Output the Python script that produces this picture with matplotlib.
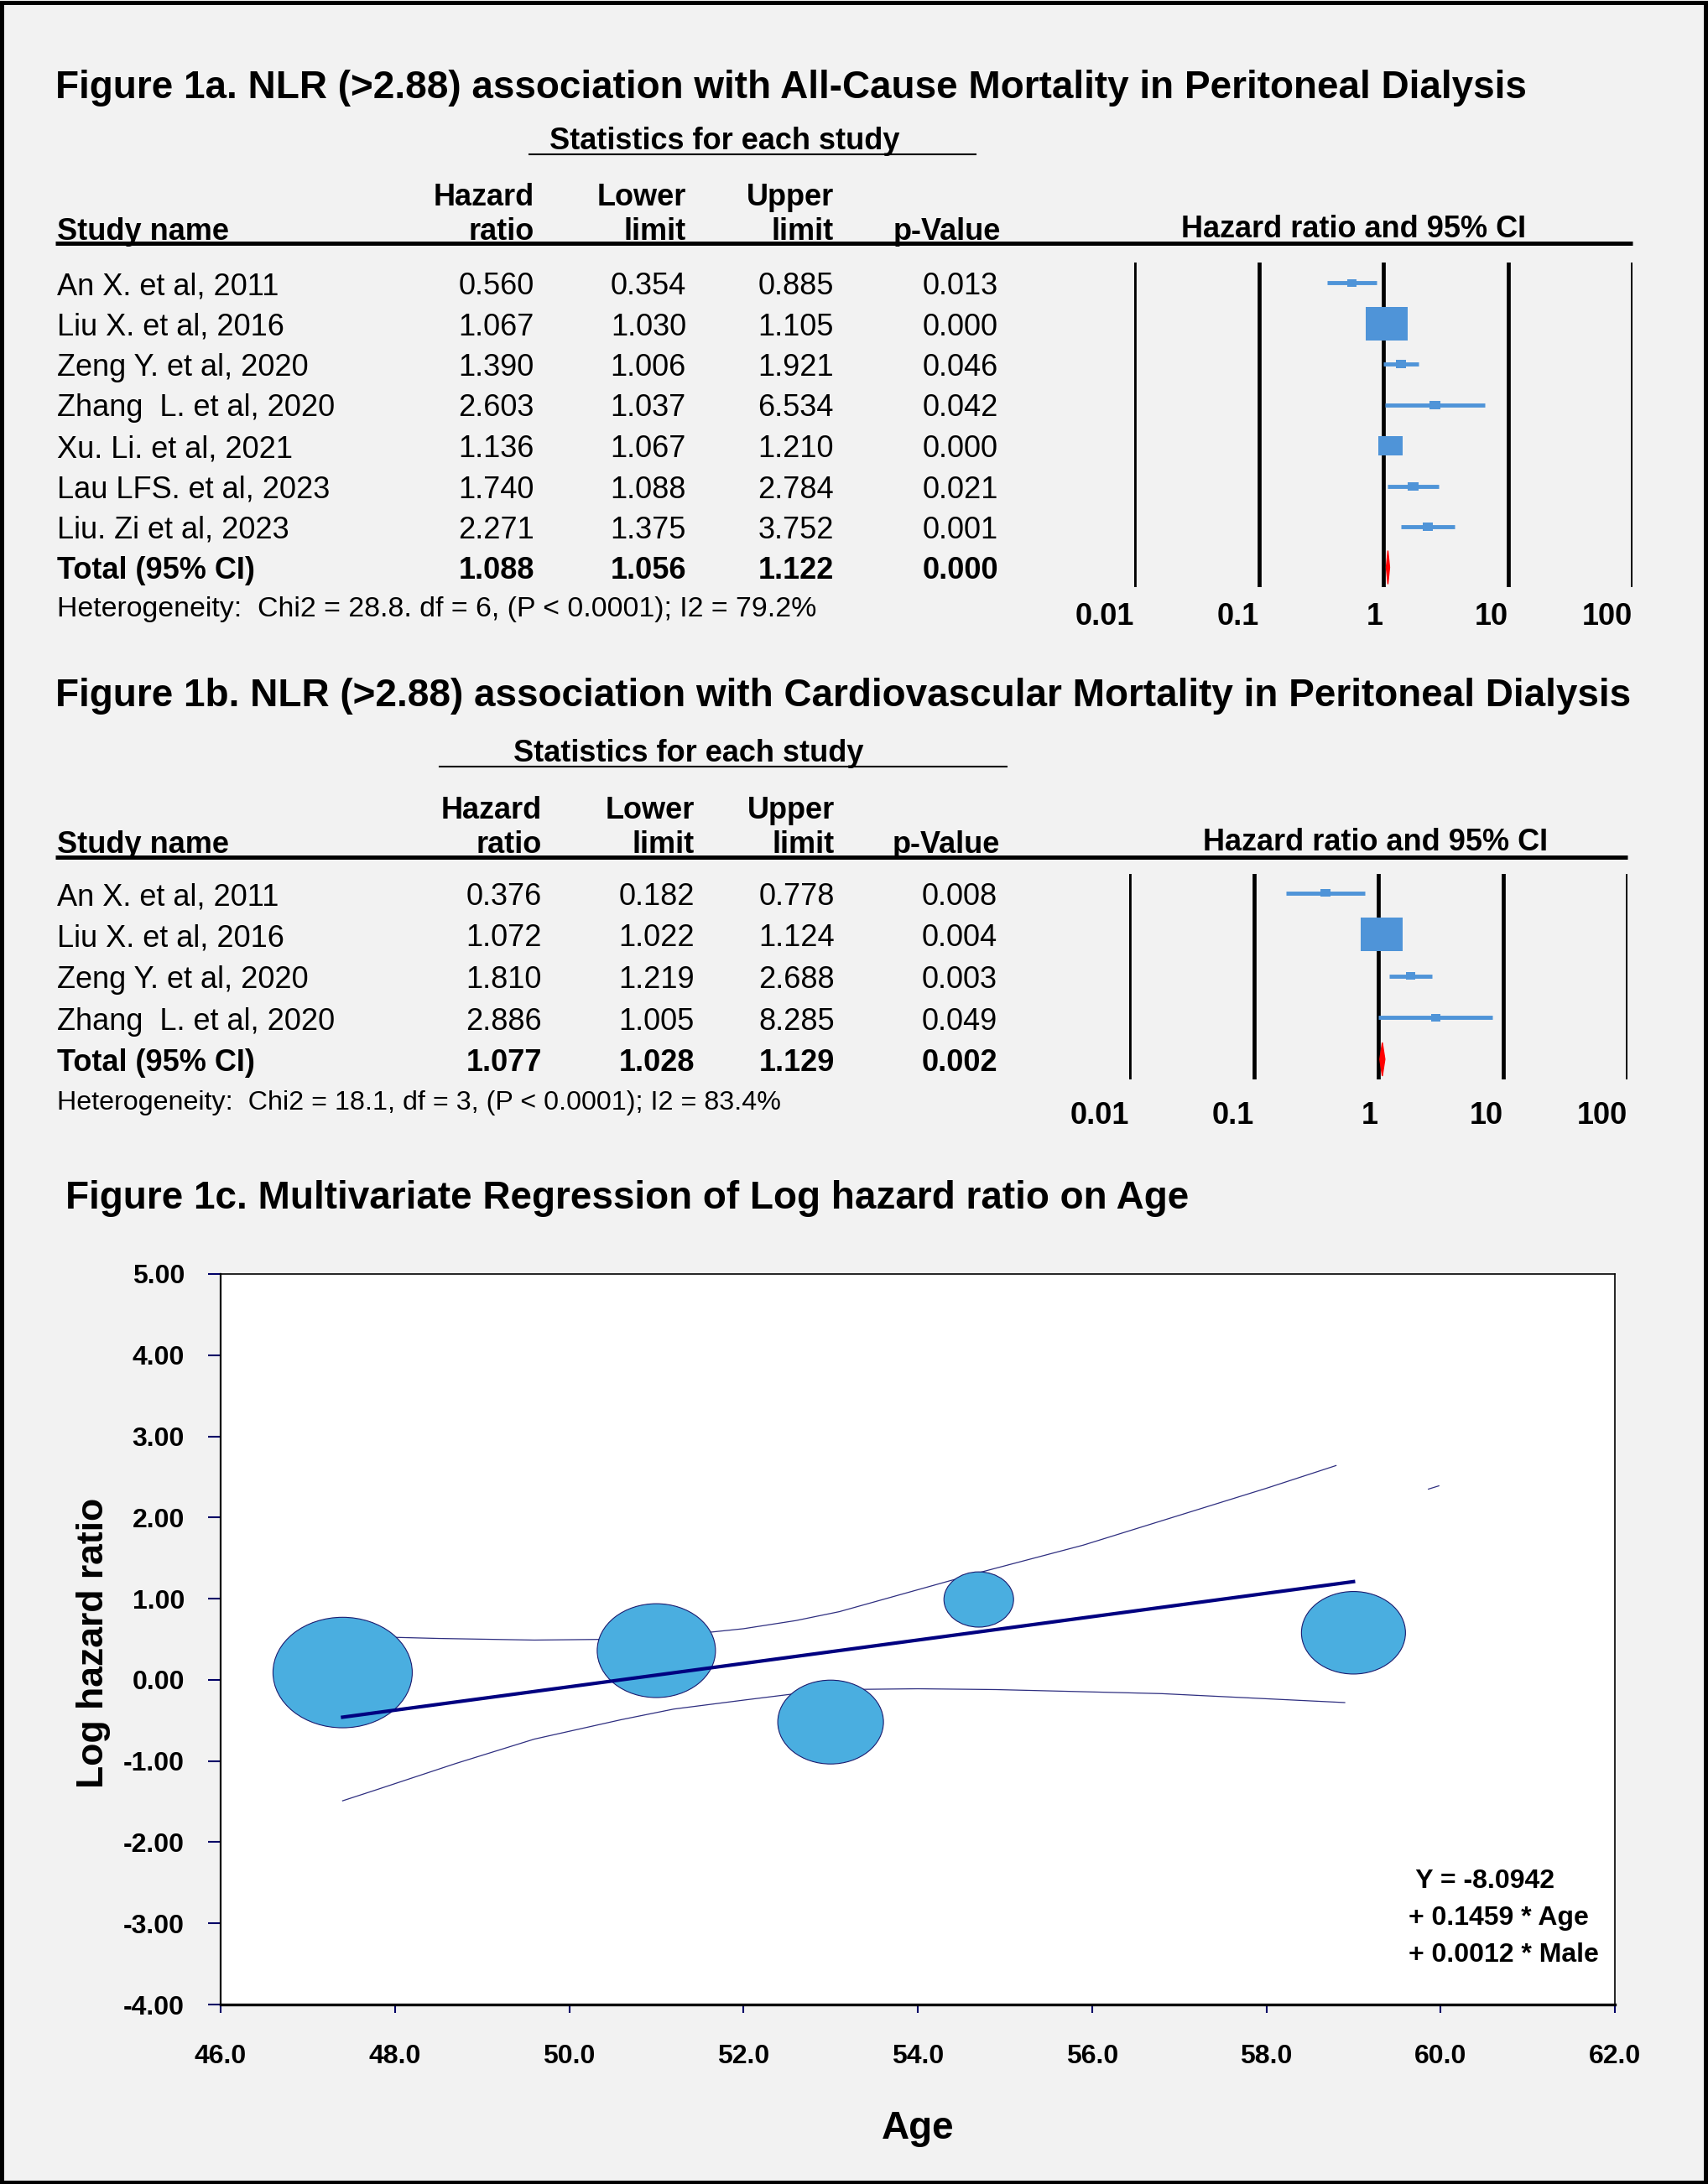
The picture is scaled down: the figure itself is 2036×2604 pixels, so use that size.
import matplotlib
matplotlib.use('Agg')
import matplotlib.pyplot as plt
import numpy as np
from matplotlib.path import Path
from matplotlib.transforms import Affine2D
from matplotlib.patches import Rectangle, Polygon
from matplotlib.ticker import NullLocator

plt.rcParams['font.family'] = ['Liberation Sans', 'DejaVu Sans']

# ---- Figure 1a data: all-cause mortality ----
studies_a = ['An X. et al, 2011', 'Liu X. et al, 2016', 'Zeng Y. et al, 2020',
             'Zhang  L. et al, 2020', 'Xu. Li. et al, 2021', 'Lau LFS. et al, 2023',
             'Liu. Zi et al, 2023']
hr_a = [0.560, 1.067, 1.390, 2.603, 1.136, 1.740, 2.271]
lo_a = [0.354, 1.030, 1.006, 1.037, 1.067, 1.088, 1.375]
hi_a = [0.885, 1.105, 1.921, 6.534, 1.210, 2.784, 3.752]
p_a = ['0.013', '0.000', '0.046', '0.042', '0.000', '0.021', '0.001']
weight_a = [9, 40, 10, 10, 23, 10, 10]
total_a = [1.088, 1.056, 1.122]
total_p_a = '0.000'
het_a = 'Heterogeneity:  Chi2 = 28.8. df = 6, (P < 0.0001); I2 = 79.2%'

# ---- Figure 1b data: cardiovascular mortality ----
studies_b = ['An X. et al, 2011', 'Liu X. et al, 2016', 'Zeng Y. et al, 2020',
             'Zhang  L. et al, 2020']
hr_b = [0.376, 1.072, 1.810, 2.886]
lo_b = [0.182, 1.022, 1.219, 1.005]
hi_b = [0.778, 1.124, 2.688, 8.285]
p_b = ['0.008', '0.004', '0.003', '0.049']
weight_b = [9, 40, 9, 9]
total_b = [1.077, 1.028, 1.129]
total_p_b = '0.002'
het_b = 'Heterogeneity:  Chi2 = 18.1, df = 3, (P < 0.0001); I2 = 83.4%'

# ---- Figure 1c data: meta-regression on age ----
age = [47.4, 51.0, 53.0, 54.7, 59.0]
log_hr = [0.09, 0.36, -0.52, 0.99, 0.58]
bubble_w = [166, 141, 126, 83, 124]
reg_age = [47.4, 59.0]
reg_fit = [-0.46, 1.21]
ci_up_age = [47.4, 48.5, 49.6, 50.5, 51.2, 52.0, 52.6, 53.1, 53.9, 54.7, 55.9, 57.1, 58.0, 58.8]
ci_up = [0.54, 0.51, 0.49, 0.50, 0.54, 0.63, 0.73, 0.84, 1.08, 1.32, 1.66, 2.06, 2.36, 2.64]
ci_up_tail_age = [59.86, 59.98]
ci_up_tail = [2.35, 2.39]
ci_lo_age = [47.4, 47.8, 48.7, 49.6, 50.6, 51.2, 52.0, 52.6, 53.1, 54.0, 54.9, 56.8, 58.9]
ci_lo = [-1.49, -1.35, -1.03, -0.73, -0.49, -0.36, -0.25, -0.17, -0.12, -0.11, -0.12, -0.17, -0.28]
y_ticks = [5, 4, 3, 2, 1, 0, -1, -2, -3, -4]
x_ticks = [46, 48, 50, 52, 54, 56, 58, 60, 62]
equation = [' Y = -8.0942', '+ 0.1459 * Age', '+ 0.0012 * Male']

W, H = 2036, 2604
BG = '#F2F2F2'
BLUE = '#4F94D8'

fig = plt.figure(figsize=(W / 100, H / 100), dpi=100, facecolor=BG)

# overlay in pixel coordinates for the table text
ov = fig.add_axes([0, 0, 1, 1])
ov.set_xlim(0, W)
ov.set_ylim(H, 0)
ov.axis('off')
ov.set_facecolor('none')
ov.set_zorder(10)
ov.add_patch(Rectangle((2.5, 2.5), W - 5, H - 5, fill=False, lw=3.6, edgecolor='black'))


def px_axes(x0, x1, y0, y1):
    return fig.add_axes([x0 / W, 1 - y1 / H, (x1 - x0) / W, (y1 - y0) / H])


def forest_panel(title, title_y, stat_y, stat_cx, stat_line, head_y, rule_y, rule_x1,
                 cols, ci_cx, studies, hr, lo, hi, pv, weight, total, total_p, het, het_fs,
                 row0, dy, ax_x, line_top, line_bot, lab_pad):
    ov.text(66, title_y, title, fontsize=33, fontweight='bold', va='baseline')
    ov.text(stat_cx, stat_y, 'Statistics for each study', fontsize=26,
            fontweight='bold', ha='center', va='baseline')
    ov.plot(stat_line, [stat_y + 6, stat_y + 6], color='black', lw=1.5)
    c_hr, c_lo, c_hi, c_p = cols
    for x, top, bot in [(c_hr, 'Hazard', 'ratio'), (c_lo, 'Lower', 'limit'),
                        (c_hi, 'Upper', 'limit')]:
        ov.text(x, head_y - 41, top, fontsize=26, fontweight='bold', ha='right', va='baseline')
        ov.text(x, head_y, bot, fontsize=26, fontweight='bold', ha='right', va='baseline')
    ov.text(c_p, head_y, 'p-Value', fontsize=26, fontweight='bold', ha='right', va='baseline')
    ov.text(68, head_y, 'Study name', fontsize=26, fontweight='bold', va='baseline')
    ov.text(ci_cx, head_y - 3, 'Hazard ratio and 95% CI', fontsize=26,
            fontweight='bold', ha='center', va='baseline')
    ov.plot([66, rule_x1], [rule_y, rule_y], color='black', lw=3.6, solid_capstyle='butt')

    for i, name in enumerate(studies):
        y = row0 + dy * i + 14
        ov.text(68, y, name, fontsize=26, va='baseline')
        for x, v in [(c_hr, hr[i]), (c_lo, lo[i]), (c_hi, hi[i])]:
            ov.text(x, y, f'{v:.3f}', fontsize=26, ha='right', va='baseline')
        ov.text(c_p - 3, y, pv[i], fontsize=26, ha='right', va='baseline')
    n = len(studies)
    y = row0 + dy * n + 14
    ov.text(68, y, 'Total (95% CI)', fontsize=26, fontweight='bold', va='baseline')
    for x, v in [(c_hr, total[0]), (c_lo, total[1]), (c_hi, total[2])]:
        ov.text(x, y, f'{v:.3f}', fontsize=26, fontweight='bold', ha='right', va='baseline')
    ov.text(c_p - 3, y, total_p, fontsize=26, fontweight='bold', ha='right', va='baseline')
    ov.text(68, row0 + dy * (n + 1) + 10, het, fontsize=het_fs, va='baseline')

    # forest plot on log scale
    ax = px_axes(ax_x[0], ax_x[1], line_top, line_bot)
    ax.set_xscale('log')
    ax.set_xlim(0.01, 100)
    ax.set_ylim((line_bot - row0) / dy, (line_top - row0) / dy)
    ax.set_facecolor('none')
    for s in ax.spines.values():
        s.set_visible(False)
    for d in [0.01, 0.1, 1, 10, 100]:
        ax.axvline(d, color='black', lw=3.4, zorder=1)
    rows = np.arange(n)
    ax.hlines(rows, lo, hi, color=BLUE, lw=3.5, zorder=3)
    box = [(-1.25, -1), (1.25, -1), (1.25, 1), (-1.25, 1), (-1.25, -1)]
    ax.scatter(hr, rows, s=(np.array(weight) * 1.25 * 0.72) ** 2, marker=box,
               color=BLUE, linewidths=0, zorder=4)
    half = 20 / dy
    ax.add_patch(Polygon([(total[1], n), (total[0], n - half), (total[2], n),
                          (total[0], n + half)], closed=True, facecolor='red',
                         edgecolor='red', lw=1, zorder=4))
    ax.set_yticks([])
    ax.xaxis.set_minor_locator(NullLocator())
    ax.set_xticks([0.01, 0.1, 1, 10, 100])
    ax.set_xticklabels(['0.01', '0.1', '1', '10', '100'], fontsize=26,
                       fontweight='bold', ha='right')
    ax.tick_params(axis='x', length=0, pad=lab_pad)
    return ax


forest_panel('Figure 1a. NLR (>2.88) association with All-Cause Mortality in Peritoneal Dialysis',
             117, 178, 864, [631, 1163], 286, 290, 1946, (637, 818, 994, 1193), 1614,
             studies_a, hr_a, lo_a, hi_a, p_a, weight_a, total_a, total_p_a, het_a, 24.4,
             337, 48.5, (1352, 1946), 313, 700, 13)

forest_panel('Figure 1b. NLR (>2.88) association with Cardiovascular Mortality in Peritoneal Dialysis',
             842, 908, 821, [524, 1200], 1017, 1022, 1940, (646, 828, 995, 1192), 1640,
             studies_b, hr_b, lo_b, hi_b, p_b, weight_b, total_b, total_p_b, het_b, 23.2,
             1065, 49.5, (1346, 1940), 1042, 1287, 19)

# ---- Figure 1c ----
ov.text(78, 1441, 'Figure 1c. Multivariate Regression of Log hazard ratio on Age',
        fontsize=33, fontweight='bold', va='baseline')
ov.text(112, 1959, 'Log hazard ratio', fontsize=32, fontweight='bold', rotation=90,
        ha='center', va='center')
ov.text(1094, 2538, 'Age', fontsize=33, fontweight='bold', ha='center', va='center')
for i, line in enumerate(equation):
    ov.text(1679, 2243 + 44 * i, line, fontsize=23, fontweight='bold', va='center')

axc = px_axes(263, 1925, 1519, 2390)
axc.set_facecolor('white')
axc.set_xlim(46, 62)
axc.set_ylim(-4, 5)
for side, lw in [('left', 1.6), ('bottom', 2.4), ('top', 1.2), ('right', 1.2)]:
    axc.spines[side].set_linewidth(lw)
    axc.spines[side].set_color('black')

ellipse = Affine2D().scale(1.26, 1).transform_path(Path.unit_circle())
axc.plot(ci_up_age, ci_up, color='#2E2E80', lw=0.9, zorder=2)
axc.plot(ci_up_tail_age, ci_up_tail, color='#2E2E80', lw=0.9, zorder=2)
axc.plot(ci_lo_age, ci_lo, color='#2E2E80', lw=0.9, zorder=2)
axc.scatter(age, log_hr, s=(np.array(bubble_w) * 0.72) ** 2, marker=ellipse,
            facecolor='#4AAEE0', edgecolor='#1B1B6E', linewidths=0.8, zorder=3)
axc.plot(reg_age, reg_fit, color='#000080', lw=3, zorder=4)

axc.set_yticks(y_ticks)
axc.set_yticklabels([f'{v:.2f}' for v in y_ticks], fontsize=23, fontweight='bold')
axc.set_xticks(x_ticks)
axc.set_xticklabels([f'{v:.1f}' for v in x_ticks], fontsize=23, fontweight='bold')
axc.tick_params(axis='y', length=11, width=1.5, color='#000066', pad=20)
axc.tick_params(axis='x', length=7, width=1.5, color='#000066', pad=27)

fig.savefig('out.png', dpi=100, facecolor=BG)
